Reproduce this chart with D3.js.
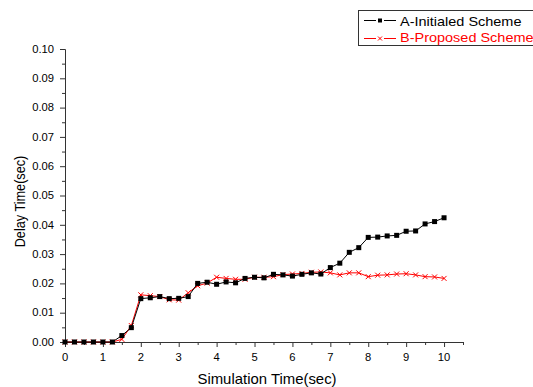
<!DOCTYPE html>
<html><head><meta charset="utf-8">
<script src="https://cdn.jsdelivr.net/npm/d3@7"></script>
<style>body{margin:0;background:#fff}svg{display:block;font-family:"Liberation Sans",Arial,sans-serif}</style>
</head><body>
<script>
const times = [0,0.25,0.5,0.75,1,1.25,1.5,1.75,2,2.25,2.5,2.75,3,3.25,3.5,3.75,4,4.25,4.5,4.75,5,5.25,5.5,5.75,6,6.25,6.5,6.75,7,7.25,7.5,7.75,8,8.25,8.5,8.75,9,9.25,9.5,9.75,10];
const seriesA = [0,0,0,0,0,0,0.0022,0.0049,0.0148,0.0151,0.0155,0.0148,0.0149,0.0155,0.0200,0.0204,0.0197,0.0205,0.0202,0.0217,0.0221,0.0219,0.0231,0.0229,0.0225,0.0231,0.0236,0.0232,0.0254,0.0269,0.0306,0.0322,0.0357,0.0358,0.0362,0.0364,0.0378,0.0379,0.0403,0.0411,0.0424];
const seriesB = [0,0,0,0,0,0,0.0009,0.0056,0.0161,0.0158,0.0155,0.0144,0.0143,0.0168,0.0192,0.0201,0.0221,0.0217,0.0214,0.0214,0.0221,0.0221,0.0223,0.0230,0.0232,0.0234,0.0238,0.0239,0.0236,0.0229,0.0236,0.0236,0.0223,0.0228,0.0229,0.0232,0.0233,0.0229,0.0223,0.0222,0.0217];
const seriesNames = ["A-Initialed Scheme","B-Proposed Scheme"];
const xTicks = [0,1,2,3,4,5,6,7,8,9,10];
const yTicks = [0,0.01,0.02,0.03,0.04,0.05,0.06,0.07,0.08,0.09,0.10];

const W=533,H=387;
const svg=d3.select("body").append("svg").attr("width",W).attr("height",H);
const x=d3.scaleLinear().domain([0,10.5]).range([65,463]);
const y=d3.scaleLinear().domain([0,0.10]).range([342,49]);

const axisColor="#333";
// x axis
const gx=svg.append("g").attr("transform","translate(0,342)")
  .call(d3.axisBottom(x).tickValues(xTicks).tickFormat("").tickSize(5).tickSizeOuter(0));
svg.append("g").attr("transform","translate(0,342)")
  .call(d3.axisBottom(x).tickValues(d3.range(0.5,10.6,1)).tickFormat("").tickSize(3).tickSizeOuter(0));
// y axis
svg.append("g").attr("transform","translate(65,0)")
  .call(d3.axisLeft(y).tickValues(yTicks).tickFormat("").tickSize(5).tickSizeOuter(0));
svg.append("g").attr("transform","translate(65,0)")
  .call(d3.axisLeft(y).tickValues(d3.range(0.005,0.1,0.01)).tickFormat("").tickSize(3).tickSizeOuter(0));
svg.selectAll(".domain").attr("stroke",axisColor);
svg.selectAll(".tick line").attr("stroke",axisColor);

// tick labels (slightly stretched horizontally like the reference)
const fmtY=d3.format(".2f");
svg.append("g").selectAll("text").data(yTicks).join("text")
  .attr("transform",d=>`translate(54,${y(d)+3.7}) scale(1.1,1)`)
  .attr("text-anchor","end").attr("font-size",10.2).text(d=>fmtY(d));
svg.append("g").selectAll("text").data(xTicks).join("text")
  .attr("transform",d=>`translate(${x(d)},360.7) scale(1.1,1)`)
  .attr("text-anchor","middle").attr("font-size",10.2).text(d=>d);

svg.append("text").attr("transform","translate(267,384) scale(1.05,1)").attr("text-anchor","middle").attr("font-size",14.2).text("Simulation Time(sec)");
svg.append("text").attr("transform","translate(25,201.5) rotate(-90) scale(1,1.2)").attr("text-anchor","middle").attr("font-size",12.7).text("Delay Time(sec)");

const line=d3.line().x((d,i)=>x(times[i])).y(d=>y(d));
function drawSeries(vals,color,marker){
  svg.append("path").datum(vals).attr("d",line).attr("fill","none").attr("stroke",color).attr("stroke-width",1);
  const g=svg.append("g");
  vals.forEach((v,i)=>{
    const cx=x(times[i]),cy=y(v);
    if(marker==="square"){
      g.append("rect").attr("x",cx-2.5).attr("y",cy-2.5).attr("width",5).attr("height",5).attr("fill",color);
    } else {
      g.append("path").attr("d",`M${cx-2.5},${cy-2.5}L${cx+2.5},${cy+2.5}M${cx-2.5},${cy+2.5}L${cx+2.5},${cy-2.5}`).attr("stroke",color).attr("stroke-width",1);
    }
  });
}
drawSeries(seriesB,"#ff0000","cross");
drawSeries(seriesA,"#000000","square");

// legend
const lg=svg.append("g");
lg.append("rect").attr("x",358.5).attr("y",10.5).attr("width",185).attr("height",35).attr("fill","#fff").attr("stroke",axisColor);
const legendRows=[{name:seriesNames[0],color:"#000",m:"square",yy:20.5,base:25.7},{name:seriesNames[1],color:"#ff0000",m:"cross",yy:38.5,base:41.7}];
legendRows.forEach(r=>{
  lg.append("line").attr("x1",364).attr("x2",376).attr("y1",r.yy).attr("y2",r.yy).attr("stroke",r.color);
  lg.append("line").attr("x1",384).attr("x2",396).attr("y1",r.yy).attr("y2",r.yy).attr("stroke",r.color);
  if(r.m==="square") lg.append("rect").attr("x",378).attr("y",r.yy-2).attr("width",4).attr("height",4).attr("fill",r.color);
  else lg.append("path").attr("d",`M378,${r.yy-2}L382,${r.yy+2}M378,${r.yy+2}L382,${r.yy-2}`).attr("stroke",r.color);
  lg.append("text").attr("transform",`translate(400,${r.base}) scale(1.15,1)`).attr("font-size",12.6).attr("fill",r.color).text(r.name);
});
</script>
</body></html>
